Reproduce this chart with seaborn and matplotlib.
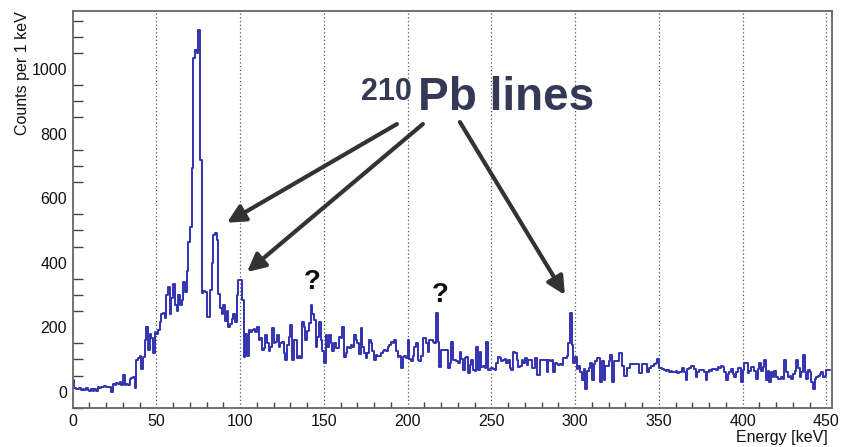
import numpy as np
import pandas as pd
import matplotlib
matplotlib.use("Agg")
import matplotlib.pyplot as plt
import seaborn as sns
from matplotlib.ticker import MultipleLocator

# ---- data: counts per 1 keV bin, bins start at 0 keV ----
counts_000_099 = [
    37, 12, 10, 8, 11, 6, 9, 5, 12, 4,
    2, 8, 3, 10, 2, 14, 13, 15, 16, 17,
    14, 16, 15, 0, 25, 22, 28, 24, 30, 20,
    52, 22, 24, 22, 40, 42, 45, 12, 99, 105,
    110, 70, 108, 160, 202, 130, 180, 165, 120, 185,
    178, 192, 215, 240, 245, 230, 300, 325, 240, 290,
    335, 270, 250, 300, 270, 285, 340, 310, 375, 465,
    511, 693, 1033, 1059, 1050, 1121, 718, 305, 312, 310,
    232, 232, 315, 400, 485, 491, 470, 303, 260, 240,
    270, 220, 250, 200, 210, 225, 240, 215, 300, 346,
]
counts_100_199 = [
    346, 284, 108, 180, 110, 190, 185, 190, 195, 185,
    200, 160, 165, 130, 135, 175, 150, 125, 140, 198,
    150, 155, 175, 139, 150, 155, 119, 98, 145, 170,
    207, 98, 160, 160, 103, 110, 105, 217, 200, 160,
    187, 212, 268, 240, 222, 139, 170, 215, 160, 125,
    88, 175, 140, 175, 150, 125, 150, 135, 135, 170,
    165, 200, 108, 119, 140, 135, 145, 140, 175, 160,
    150, 117, 198, 140, 120, 105, 120, 160, 150, 125,
    98, 115, 110, 112, 120, 125, 128, 125, 140, 145,
    155, 150, 160, 125, 108, 110, 72, 108, 110, 105,
]
counts_200_299 = [
    160, 100, 95, 110, 140, 150, 99, 95, 110, 166,
    166, 150, 124, 160, 160, 155, 150, 243, 155, 77,
    129, 129, 129, 129, 72, 90, 155, 99, 99, 95,
    88, 124, 100, 67, 103, 109, 57, 82, 99, 67,
    65, 140, 67, 124, 77, 80, 75, 155, 67, 70,
    75, 70, 67, 90, 108, 105, 95, 98, 100, 88,
    99, 75, 67, 124, 120, 99, 78, 80, 99, 88,
    103, 82, 99, 99, 72, 72, 103, 52, 52, 99,
    99, 99, 99, 62, 99, 95, 99, 62, 88, 85,
    82, 85, 83, 103, 103, 110, 150, 243, 145, 88,
]
counts_300_451 = [
    108, 70, 80, 60, 36, 70, 8, 65, 75, 88,
    36, 85, 95, 104, 104, 29, 95, 36, 80, 80,
    95, 114, 29, 95, 95, 95, 119, 119, 80, 50,
    50, 75, 75, 85, 85, 85, 85, 85, 57, 57,
    85, 85, 85, 60, 75, 80, 80, 85, 90, 100,
    75, 75, 70, 67, 65, 67, 62, 65, 60, 62,
    65, 57, 60, 62, 75, 60, 36, 70, 75, 80,
    80, 70, 45, 60, 67, 67, 67, 60, 36, 60,
    67, 65, 70, 70, 67, 78, 75, 80, 78, 62,
    36, 55, 62, 70, 55, 45, 60, 75, 75, 29,
    67, 88, 88, 57, 65, 78, 78, 65, 40, 70,
    88, 65, 78, 98, 36, 65, 29, 60, 45, 65,
    45, 40, 40, 45, 40, 98, 60, 45, 50, 40,
    55, 65, 98, 75, 45, 60, 114, 60, 40, 67,
    60, 30, 8, 40, 45, 50, 55, 60, 45, 50,
    67, 67,
]
bin_width = 1.0
x_ticks = [0, 50, 100, 150, 200, 250, 300, 350, 400, 450]
y_ticks = [0, 200, 400, 600, 800, 1000]
annot_text = "Pb lines"
annot_iso = "210"
arrow_tips = [(92.1, 523.7), (104.1, 371.0), (293.9, 299.7)]
arrow_tails = [(193.6, 829.6), (209.1, 829.6), (231.2, 835.8)]
question_pos = [(142.9, 341.0), (219.3, 299.6)]

counts = np.array(counts_000_099 + counts_100_199 + counts_200_299 + counts_300_451, dtype=float)
nbins = len(counts)
df = pd.DataFrame({"energy": np.arange(nbins) * bin_width + bin_width / 2, "counts": counts})

sns.set_theme(style="white")
plt.rcParams["font.family"] = ["Liberation Sans", "DejaVu Sans"]

fig = plt.figure(figsize=(8.42, 4.47), dpi=100)
ax = fig.add_axes([0.0863, 0.0872, 0.9017, 0.8882])

sns.histplot(data=df, x="energy", weights="counts", binwidth=bin_width,
             binrange=(0, nbins * bin_width), element="step",
             fill=False, color="#3232b0", linewidth=1.4, ax=ax)

ax.set_xlim(0, 453.3)
ax.set_ylim(-50.5, 1180)

for xv in x_ticks[1:]:
    ax.axvline(xv, color="#555555", linestyle=(0, (1, 2)), linewidth=0.9, zorder=0)

ax.set_xticks(x_ticks)
ax.set_yticks(y_ticks)
ax.xaxis.set_minor_locator(MultipleLocator(10))
ax.yaxis.set_minor_locator(MultipleLocator(50))
ax.tick_params(axis="both", which="both", direction="in", color="#444444",
               labelsize=11.5, labelcolor="#111111")
ax.tick_params(axis="y", which="major", length=15, width=1.2, pad=4)
ax.tick_params(axis="y", which="minor", length=7, width=1.0, left=True)
ax.tick_params(axis="x", which="major", length=8, width=1.2, pad=4)
ax.tick_params(axis="x", which="minor", length=4.5, width=1.0, bottom=True)
for s in ax.spines.values():
    s.set_color("#666666")
    s.set_linewidth(1.3)

ax.set_xlabel("Energy [keV]", fontsize=11.5, color="#111111", loc="right", labelpad=0)
ax.xaxis.set_label_coords(0.9947, -0.056)
ax.set_ylabel("Counts per 1 keV", fontsize=11.5, color="#111111", loc="top")
ax.yaxis.set_label_coords(-0.056, 1.0)

txt_color = "#343a55"
ax.text(202.5, 905, annot_iso, fontsize=22, fontweight="bold", color=txt_color,
        ha="right", va="baseline")
ax.text(206.0, 872, annot_text, fontsize=33, fontweight="bold", color=txt_color,
        ha="left", va="baseline")

for tail, tip in zip(arrow_tails, arrow_tips):
    ax.annotate("", xy=tip, xytext=tail,
                arrowprops=dict(arrowstyle="-|>,head_length=0.9,head_width=0.45",
                                color="#333333", lw=3.0, shrinkA=0, shrinkB=0))

for (qx, qy) in question_pos:
    ax.text(qx, qy, "?", fontsize=20, fontweight="bold", color="#111111",
            ha="center", va="center")

fig.savefig("out.png", dpi=100)
